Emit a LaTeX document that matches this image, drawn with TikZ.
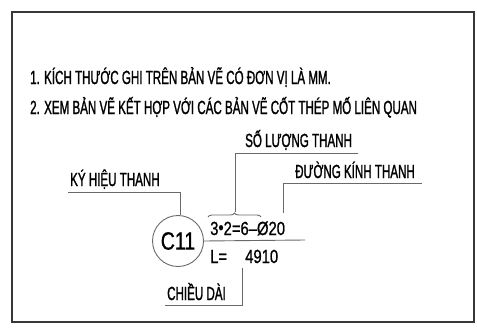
\documentclass[tikz,border=0pt]{standalone}
\usepackage{fontspec}
\setmainfont{Liberation Sans}
\newfontfamily\narrowfont[FakeStretch=0.61, FakeBold=1.2]{Liberation Sans}
\newfontfamily\valuefont[FakeStretch=0.78, FakeBold=0.8]{Liberation Sans}
\usetikzlibrary{calc, positioning, decorations.pathreplacing}
\definecolor{leadgray}{RGB}{105,105,105}
\definecolor{framegray}{RGB}{55,55,55}

\begin{document}
\begin{tikzpicture}[x=1pt, y=-1pt,
    note/.style={font=\narrowfont\fontsize{19}{19}\selectfont, inner sep=0pt, anchor=base west},
    value/.style={font=\valuefont\fontsize{19}{19}\selectfont, inner sep=0pt, anchor=base west},
    leader/.style={draw=leadgray, line width=0.9pt}]
  \useasboundingbox (0,0) rectangle (477,327);
  % frame
  \draw[framegray, line width=1.4pt] (12,12) rectangle (474,322);
  % general notes
  \node[note] (notea) at (30,84) {1. KÍCH THƯỚC GHI TRÊN BẢN VẼ CÓ ĐƠN VỊ LÀ MM.};
  \node[note] (noteb) at (30,114) {2. XEM BẢN VẼ KẾT HỢP VỚI CÁC BẢN VẼ CỐT THÉP MỐ LIÊN QUAN};
  % bar mark
  \node[circle, draw=leadgray, line width=0.9pt, minimum size=51pt, inner sep=0pt,
        font=\valuefont\fontsize{25}{25}\selectfont] (mark) at (178,241) {C11};
  \node[value] (count) at (210,235) {3\raisebox{0.1ex}{•}2=6–Ø20};
  \node[value] (lenkey) at (210,263) {L=};
  \node[value] (lenval) at (245,263) {4910};
  \coordinate (split) at (305,240);
  \draw[leader] (mark.east) -- (split);
  % labels
  \node[note] (kyhieu) at (70,186) {KÝ HIỆU THANH};
  \node[note] (soluong) at (245,147) {SỐ LƯỢNG THANH};
  \node[note] (duongkinh) at (295,178) {ĐƯỜNG KÍNH THANH};
  \node[note] (chieudai) at (167,300) {CHIỀU DÀI};
  % leaders
  \coordinate (kyhieu-a) at (68,192);
  \coordinate (kyhieu-b) at (180,192);
  \draw[leader] (kyhieu-a) -- (kyhieu-b) -- (kyhieu-b |- mark.north);
  \coordinate (soluong-a) at (358,153);
  \coordinate (soluong-b) at (235,153);
  \coordinate (bracetip) at (235,212);
  \draw[leader] (soluong-a) -- (soluong-b) -- (bracetip);
  \draw[leader, decorate, decoration={brace, amplitude=4pt}] (208,217) -- (261,217);
  \coordinate (duongkinh-a) at (422,183);
  \coordinate (duongkinh-b) at (283,183);
  \coordinate (duongkinh-c) at (283,213);
  \draw[leader] (duongkinh-a) -- (duongkinh-b) -- (duongkinh-c);
  \coordinate (chieudai-a) at (242,268);
  \coordinate (chieudai-b) at (242,305);
  \coordinate (chieudai-c) at (165,305);
  \draw[leader] (chieudai-a) -- (chieudai-b) -- (chieudai-c);
\end{tikzpicture}
\end{document}
